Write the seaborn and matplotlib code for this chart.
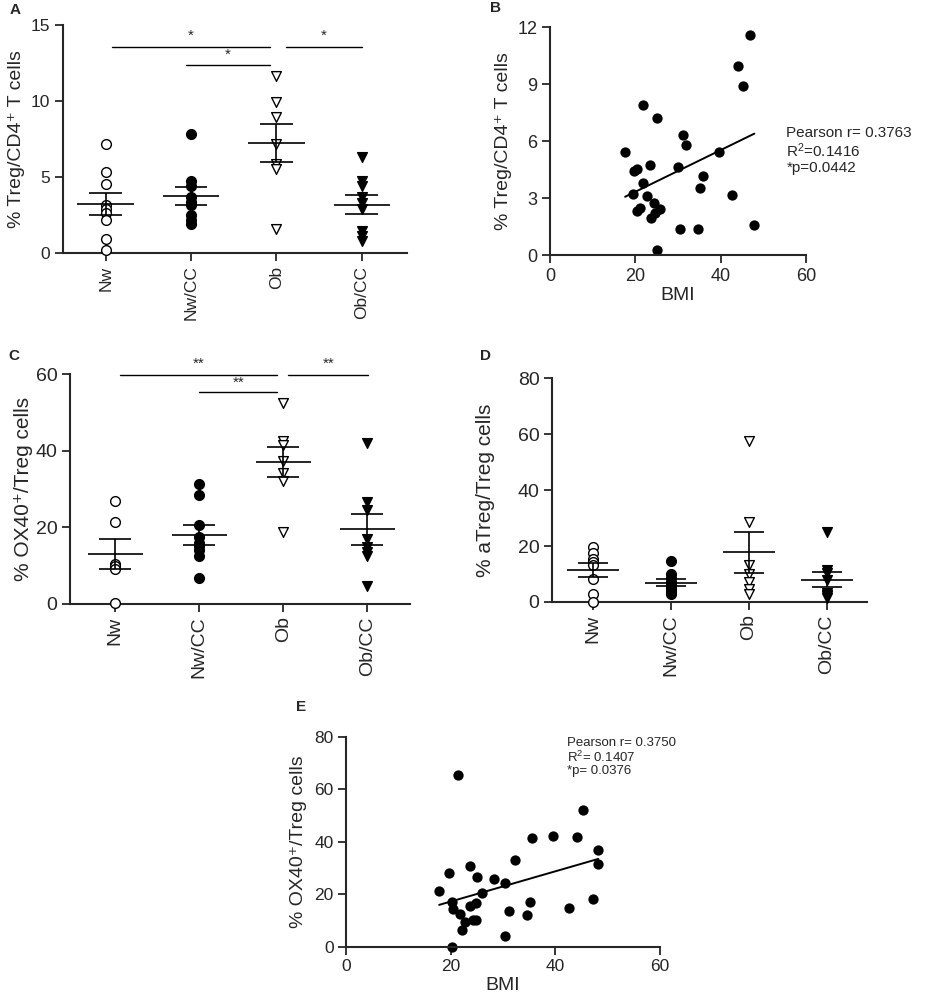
import numpy as np
import pandas as pd
import matplotlib
matplotlib.use("Agg")
import matplotlib.pyplot as plt
import seaborn as sns

sns.set_style("ticks")
plt.rcParams["font.family"] = ["Liberation Sans", "DejaVu Sans"]
plt.rcParams["mathtext.fontset"] = "custom"
plt.rcParams["mathtext.rm"] = "Liberation Sans"
plt.rcParams["mathtext.it"] = "Liberation Sans:italic"
plt.rcParams["mathtext.bf"] = "Liberation Sans:bold"
plt.rcParams["mathtext.default"] = "rm"

# ---- data ----
groups = ["Nw", "Nw/CC", "Ob", "Ob/CC"]

# A: % Treg / CD4+ T cells
treg_nw = [7.18, 5.36, 4.55, 3.13, 2.89, 2.63, 2.19, 0.92, 0.22]
treg_nwcc = [7.82, 4.71, 4.42, 3.72, 3.39, 3.18, 2.52, 2.19, 1.90]
treg_ob = [11.65, 9.96, 8.98, 7.20, 5.85, 5.50, 1.58]
treg_obcc = [6.31, 4.71, 4.38, 3.72, 3.30, 2.90, 1.45, 1.10, 0.77]

# C: % OX40+ / Treg cells
ox40_nw = [26.8, 21.3, 10.4, 9.8, 9.2, 0.2]
ox40_nwcc = [31.2, 28.5, 20.6, 17.5, 16.0, 15.2, 14.0, 12.4, 6.7]
ox40_ob = [52.4, 42.6, 41.6, 37.4, 34.1, 32.0, 18.7]
ox40_obcc = [42.0, 26.7, 24.6, 17.0, 14.8, 13.6, 12.4, 4.7]

# D: % aTreg / Treg cells
atreg_nw = [19.6, 17.5, 15.5, 14.3, 13.1, 8.3, 2.7, 0.0]
atreg_nwcc = [14.5, 10.0, 8.5, 7.0, 6.2, 5.3, 4.6, 3.6, 2.8]
atreg_ob = [57.4, 28.6, 13.1, 10.1, 7.1, 4.8, 3.0]
atreg_obcc = [25.0, 11.5, 10.5, 8.0, 3.2, 2.5, 2.0, 1.5]

# B: BMI vs % Treg/CD4+
bmi_b = [46.9, 44.1, 45.2, 21.7, 25.0, 31.1, 31.9, 17.6, 39.5, 23.5, 20.3, 19.8,
         30.1, 35.8, 21.9, 35.2, 19.4, 22.7, 42.6, 24.3, 25.8, 21.1, 20.3, 24.6,
         23.7, 47.9, 30.4, 34.7, 25.1]
treg_b = [11.56, 9.95, 8.88, 7.92, 7.20, 6.34, 5.78, 5.43, 5.43, 4.76, 4.55, 4.43,
          4.64, 4.17, 3.77, 3.54, 3.20, 3.10, 3.15, 2.75, 2.45, 2.50, 2.31, 2.19,
          1.93, 1.56, 1.35, 1.35, 0.26]

# E: BMI vs % OX40+/Treg
bmi_e = [21.3, 45.2, 35.6, 39.6, 44.2, 48.2, 48.2, 32.2, 23.6, 19.6, 25.1, 28.3,
         30.3, 17.8, 26.0, 20.2, 35.2, 47.1, 24.8, 23.7, 20.5, 42.6, 31.1, 21.7,
         34.5, 24.3, 24.9, 22.7, 22.1, 30.4, 20.3]
ox40_e = [65.4, 52.1, 41.4, 42.2, 41.7, 36.9, 31.7, 33.0, 31.0, 28.0, 26.5, 26.0,
          24.2, 21.4, 20.6, 17.2, 17.3, 18.1, 16.9, 15.5, 14.5, 14.9, 13.8, 12.6,
          12.0, 10.2, 10.2, 9.6, 6.6, 4.1, 0.0]

styles = {"Nw": ("o", "white"), "Nw/CC": ("o", "black"),
          "Ob": ("v", "white"), "Ob/CC": ("v", "black")}

lbl_treg = "% Treg/CD4\u207a T cells"
lbl_ox40 = "% OX40\u207a/Treg cells"


def style_axes(ax, tick_fs):
    ax.tick_params(labelsize=tick_fs, length=6, width=1.3, pad=3)
    sns.despine(ax=ax)
    for s in ["left", "bottom"]:
        ax.spines[s].set_linewidth(1.5)


def group_panel(ax, values, ylim, yticks, ylabel, tick_fs, label_fs, xlim, pad):
    df = pd.DataFrame({"group": np.repeat(groups, [len(v) for v in values]),
                       "value": np.concatenate(values)})
    for g in groups:
        m, fc = styles[g]
        sns.stripplot(data=df[df.group == g], x="group", y="value", order=groups,
                      jitter=False, marker=m, color=fc, edgecolor="black",
                      linewidth=1, size=7, ax=ax, clip_on=False, zorder=3)
    # mean +/- SEM
    for i, v in enumerate(values):
        v = np.asarray(v)
        mu = v.mean()
        se = v.std(ddof=1) / np.sqrt(len(v))
        ax.hlines(mu, i - 0.33, i + 0.33, color="black", lw=1.2, zorder=4)
        ax.hlines([mu - se, mu + se], i - 0.19, i + 0.19, color="black", lw=1.2, zorder=4)
        ax.vlines(i, mu - se, mu + se, color="black", lw=1.2, zorder=4)
    ax.set_ylim(*ylim)
    ax.set_yticks(yticks)
    ax.set_xlim(*xlim)
    ax.set_xlabel("")
    ax.set_ylabel(ylabel, fontsize=label_fs, labelpad=pad)
    style_axes(ax, tick_fs)
    ax.tick_params(axis="x", labelrotation=90)


def bracket(ax, x0, x1, y, ty, label):
    ax.plot([x0, x1], [y, y], color="black", lw=1, clip_on=False)
    ax.text((x0 + x1) / 2, ty, label, ha="center", va="center", fontsize=11,
            clip_on=False)


def bmi_panel(ax, x, y, ylim, yticks, ylabel, tick_fs, label_fs, pad):
    sns.regplot(x=x, y=y, ci=None, color="black", ax=ax,
                scatter_kws=dict(s=55, linewidths=0, clip_on=False, alpha=1),
                line_kws=dict(lw=1.4))
    ax.set_xlim(0, 60)
    ax.set_xticks([0, 20, 40, 60])
    ax.set_ylim(*ylim)
    ax.set_yticks(yticks)
    ax.set_xlabel("BMI", fontsize=label_fs, labelpad=2)
    ax.set_ylabel(ylabel, fontsize=label_fs, labelpad=pad)
    style_axes(ax, tick_fs)


fig = plt.figure(figsize=(9.37, 9.99), dpi=100)
axA = fig.add_axes([0.0672, 0.7467, 0.3671, 0.2282])
axB = fig.add_axes([0.587, 0.7447, 0.2732, 0.2282])
axC = fig.add_axes([0.0747, 0.3954, 0.3629, 0.2302])
axD = fig.add_axes([0.589, 0.3974, 0.336, 0.2242])
axE = fig.add_axes([0.3693, 0.0521, 0.3351, 0.2102])

# A
group_panel(axA, [treg_nw, treg_nwcc, treg_ob, treg_obcc], (0, 15), [0, 5, 10, 15],
            lbl_treg, 12.5, 14, (-0.5, 3.53), 4)
bracket(axA, 0.08, 1.92, 13.55, 14.3, "*")
bracket(axA, 0.94, 1.92, 12.37, 13.05, "*")
bracket(axA, 2.11, 3.0, 13.55, 14.3, "*")

# B
bmi_panel(axB, bmi_b, treg_b, (0, 12), [0, 3, 6, 9, 12], lbl_treg, 13, 14, 4)
axB.text(0.923, 0.46, "Pearson r= 0.3763\nR$^2$=0.1416\n*p=0.0442",
         transform=axB.transAxes, ha="left", va="center", fontsize=11,
         linespacing=1.1, clip_on=False)

# C
group_panel(axC, [ox40_nw, ox40_nwcc, ox40_ob, ox40_obcc], (0, 60), [0, 20, 40, 60],
            lbl_ox40, 14, 15, (-0.54, 3.51), 2)
bracket(axC, 0.06, 1.93, 59.8, 62.6, "**")
bracket(axC, 1.0, 1.93, 55.3, 57.8, "**")
bracket(axC, 2.06, 3.01, 59.8, 62.6, "**")

# D
group_panel(axD, [atreg_nw, atreg_nwcc, atreg_ob, atreg_obcc], (0, 80),
            [0, 20, 40, 60, 80], "% aTreg/Treg cells", 14, 15, (-0.53, 3.51), 16)

# E
bmi_panel(axE, bmi_e, ox40_e, (0, 80), [0, 20, 40, 60, 80], lbl_ox40, 12.5, 14, 5)
axE.text(0.705, 1.0, "Pearson r= 0.3750\nR$^2$= 0.1407\n*p= 0.0376",
         transform=axE.transAxes, ha="left", va="top", fontsize=9.5,
         linespacing=1.05, clip_on=False)

# panel letters
for lab, (px, py) in {"A": (10, 10), "B": (490, 8), "C": (8, 356),
                      "D": (480, 356), "E": (296, 707)}.items():
    fig.text(px / 937, 1 - py / 999, lab, fontsize=11, fontweight="bold",
             ha="left", va="center")

fig.savefig("out.png", dpi=100)
